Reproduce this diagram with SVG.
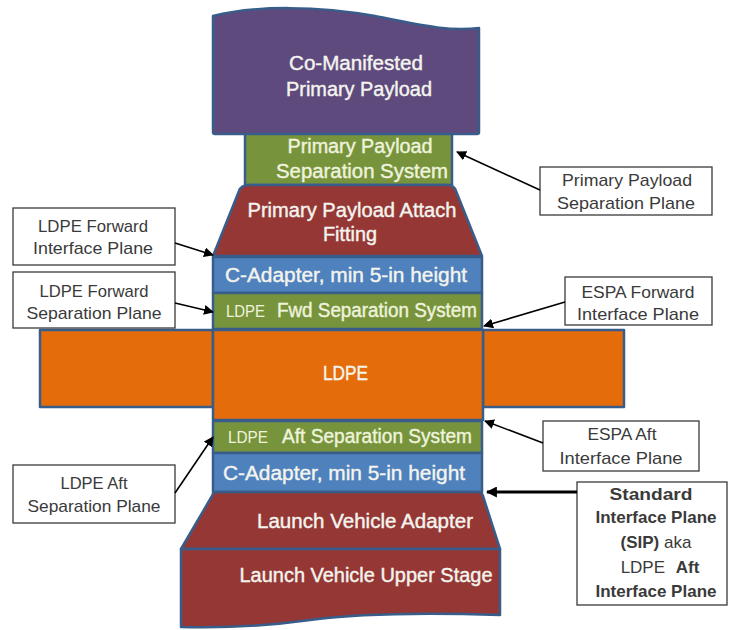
<svg xmlns="http://www.w3.org/2000/svg" width="729" height="630" viewBox="0 0 729 630">
<defs>
<marker id="ah" viewBox="0 0 10 10" refX="9" refY="5" markerWidth="10" markerHeight="10" markerUnits="userSpaceOnUse" orient="auto">
<path d="M0,0 L10,5 L0,10 Z" fill="#000"/>
</marker>
<marker id="ah2" viewBox="0 0 10 10" refX="9" refY="5" markerWidth="11" markerHeight="11" markerUnits="userSpaceOnUse" orient="auto">
<path d="M0,0 L10,5 L0,10 Z" fill="#000"/>
</marker>
</defs>
<style>
.blk{stroke:#385d8a;stroke-width:2.5;stroke-linejoin:round}
.pur{fill:#5f4a7d}
.grn{fill:#77933c}
.red{fill:#953735}
.blu{fill:#4f81bd}
.org{fill:#e46c0a}
.nt{font-family:"Liberation Sans",Arial,sans-serif;font-size:20px;fill:#f4f4ee;stroke:#f4f4ee;stroke-width:0.4;text-anchor:middle}
.gt{fill:#eef3dc;stroke:#eef3dc}
.sm{font-size:16px;stroke-width:0}
.box{fill:#fff;stroke:#3a3a3a;stroke-width:1.3}
.ct{font-family:"Liberation Sans",Arial,sans-serif;font-size:17px;fill:#3a3a3a;text-anchor:middle}
.b{font-weight:bold}
.con{stroke:#000;stroke-width:1.6;fill:none;marker-end:url(#ah)}
</style>
<rect width="729" height="630" fill="#fff"/>

<g id="comanifested">
<path class="blk pur" d="M213,16 C255,5 320,6 375,16 C420,25 450,32 479,28 L479,132 Q479,134 477,134 L215,134 Q213,134 213,132 Z"/>
<text class="nt" x="356" y="70" textLength="134" lengthAdjust="spacingAndGlyphs">Co-Manifested</text>
<text class="nt" x="359" y="96" textLength="146" lengthAdjust="spacingAndGlyphs">Primary Payload</text>
</g>

<g id="pp-sep-system">
<rect class="blk grn" x="245" y="134" width="207" height="51"/>
<text class="nt gt" x="360" y="153" font-size="19" textLength="145" lengthAdjust="spacingAndGlyphs">Primary Payload</text>
<text class="nt gt" x="362" y="178" font-size="19" textLength="172" lengthAdjust="spacingAndGlyphs">Separation System</text>
</g>

<g id="ppaf">
<path class="blk red" d="M249,185 L448,185 Q454,185 456,191 L482,256 L213,256 L239,191 Q241,185 249,185 Z"/>
<text class="nt" x="352" y="217" textLength="209" lengthAdjust="spacingAndGlyphs">Primary Payload Attach</text>
<text class="nt" x="350" y="241" textLength="54" lengthAdjust="spacingAndGlyphs">Fitting</text>
</g>

<g id="c-adapter-top">
<rect class="blk blu" x="213" y="257" width="269" height="36"/>
<text class="nt" x="346" y="282" textLength="242" lengthAdjust="spacingAndGlyphs">C-Adapter, min 5-in height</text>
</g>

<g id="ldpe-fwd-sep">
<rect class="blk grn" x="213" y="293" width="269" height="36"/>
<text class="nt gt sm" x="245.500" y="317" textLength="39" lengthAdjust="spacingAndGlyphs">LDPE</text>
<text class="nt gt" x="377" y="317" textLength="200" lengthAdjust="spacingAndGlyphs">Fwd Separation System</text>
</g>

<g id="ldpe">
<rect class="blk org" x="40" y="330" width="173" height="77"/>
<rect class="blk org" x="483" y="330" width="141" height="77"/>
<rect class="blk org" x="213" y="330" width="270" height="90"/>
<text class="nt" x="345.500" y="380" textLength="45" lengthAdjust="spacingAndGlyphs">LDPE</text>
</g>

<g id="ldpe-aft-sep">
<rect class="blk grn" x="213" y="421" width="269" height="32"/>
<text class="nt gt sm" x="248" y="443" textLength="40" lengthAdjust="spacingAndGlyphs">LDPE</text>
<text class="nt gt" x="377" y="443" textLength="190" lengthAdjust="spacingAndGlyphs">Aft Separation System</text>
</g>

<g id="c-adapter-bottom">
<rect class="blk blu" x="213" y="453" width="269" height="39"/>
<text class="nt" x="344" y="480" textLength="242" lengthAdjust="spacingAndGlyphs">C-Adapter, min 5-in height</text>
</g>

<g id="lv-adapter">
<path class="blk red" d="M217,492 L478,492 Q482,492 483,496 L500,549 L181,549 L212,496 Q213,492 217,492 Z"/>
<text class="nt" x="365" y="528" textLength="216" lengthAdjust="spacingAndGlyphs">Launch Vehicle Adapter</text>
</g>

<g id="lv-upper-stage">
<path class="blk red" d="M181,549 L500,549 L500,615 C440,613 370,612 310,620 C260,627 215,628 181,627 Z"/>
<text class="nt" x="366" y="582" textLength="253" lengthAdjust="spacingAndGlyphs">Launch Vehicle Upper Stage</text>
</g>

<g id="callout-ldpe-fwd-interface">
<rect class="box" x="13" y="208" width="162" height="57"/>
<text class="ct" x="93" y="232" textLength="110" lengthAdjust="spacingAndGlyphs">LDPE Forward</text>
<text class="ct" x="93" y="254" textLength="120" lengthAdjust="spacingAndGlyphs">Interface Plane</text>
</g>

<g id="callout-ldpe-fwd-sep">
<rect class="box" x="13" y="272" width="162" height="56"/>
<text class="ct" x="94" y="297" textLength="109" lengthAdjust="spacingAndGlyphs">LDPE Forward</text>
<text class="ct" x="94" y="319" textLength="135" lengthAdjust="spacingAndGlyphs">Separation Plane</text>
</g>

<g id="callout-pp-sep-plane">
<rect class="box" x="540" y="167" width="172" height="48"/>
<text class="ct" x="627" y="186" textLength="130" lengthAdjust="spacingAndGlyphs">Primary Payload</text>
<text class="ct" x="626" y="209" textLength="138" lengthAdjust="spacingAndGlyphs">Separation Plane</text>
</g>

<g id="callout-espa-fwd">
<rect class="box" x="565" y="277" width="147" height="48"/>
<text class="ct" x="638" y="298" textLength="113" lengthAdjust="spacingAndGlyphs">ESPA Forward</text>
<text class="ct" x="638" y="320" textLength="122" lengthAdjust="spacingAndGlyphs">Interface Plane</text>
</g>

<g id="callout-espa-aft">
<rect class="box" x="543" y="421" width="156" height="50"/>
<text class="ct" x="622" y="440" textLength="69" lengthAdjust="spacingAndGlyphs">ESPA Aft</text>
<text class="ct" x="621" y="464" textLength="123" lengthAdjust="spacingAndGlyphs">Interface Plane</text>
</g>

<g id="callout-sip">
<rect class="box" x="577" y="482" width="150" height="123"/>
<text class="ct b" x="651" y="500" textLength="83" lengthAdjust="spacingAndGlyphs">Standard</text>
<text class="ct b" x="656" y="523" textLength="121" lengthAdjust="spacingAndGlyphs">Interface Plane</text>
<text class="ct" x="656" y="548"><tspan class="b">(SIP)</tspan> aka</text>
<text class="ct" x="660" y="573">LDPE <tspan class="b" dx="6">Aft</tspan></text>
<text class="ct b" x="656" y="597" textLength="121" lengthAdjust="spacingAndGlyphs">Interface Plane</text>
</g>

<g id="callout-ldpe-aft-sep">
<rect class="box" x="13" y="465" width="162" height="58"/>
<text class="ct" x="94" y="489" textLength="67" lengthAdjust="spacingAndGlyphs">LDPE Aft</text>
<text class="ct" x="94" y="512" textLength="133" lengthAdjust="spacingAndGlyphs">Separation Plane</text>
</g>

<g id="connectors">
<line class="con" x1="175" y1="243" x2="213" y2="255"/>
<line class="con" x1="175" y1="303" x2="213" y2="312"/>
<line class="con" x1="540" y1="190" x2="457" y2="152"/>
<line class="con" x1="565" y1="302" x2="484" y2="326"/>
<line class="con" x1="543" y1="443" x2="485" y2="421"/>
<line class="con" x1="577" y1="492" x2="487" y2="492" style="stroke-width:3;marker-end:url(#ah2)"/>
<line class="con" x1="175" y1="493" x2="213" y2="437"/>
</g>
</svg>
